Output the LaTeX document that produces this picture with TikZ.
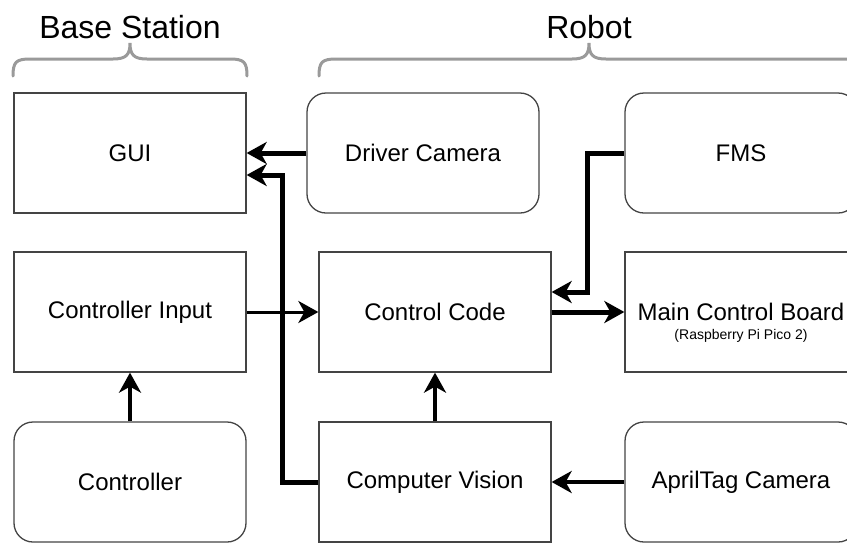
\documentclass[tikz,border=0pt]{standalone}
\usepackage{fontspec}
\setmainfont{Liberation Sans}
\usetikzlibrary{arrows.meta}
\definecolor{edgegray}{HTML}{444444}
\definecolor{bracegray}{HTML}{9A9A9A}
\tikzset{
  box/.style={draw=edgegray, line width=1.3pt, minimum width=232pt, minimum height=120pt,
    inner sep=0pt, align=center, font=\fontsize{24}{28}\selectfont},
  softbox/.style={box, rounded corners=19pt},
  flow/.style={line width=#1, -{Stealth[length=20pt, width=22pt, inset=6pt]}},
  flow/.default=5pt,
  brace/.style={draw=bracegray, line width=3pt, line cap=round, rounded corners=0pt},
  heading/.style={font=\fontsize{32}{36}\selectfont, inner sep=0pt}
}
\begin{document}
\begin{tikzpicture}[x=1pt, y=-1pt]
  \useasboundingbox (0,0) rectangle (847,542);
  \clip (0,0) rectangle (847,542);

  % group headings and braces
  \node[heading] (hbase) at (130,27) {Base Station};
  \node[heading] (hrobot) at (589,27) {Robot};
  \draw[brace] (13,76) .. controls (13,62) and (16,59) .. (30,59) -- (113,59)
    .. controls (126,59) and (130,55) .. (130,43)
    .. controls (130,55) and (134,59) .. (147,59) -- (230,59)
    .. controls (244,59) and (247,62) .. (247,76);
  \draw[brace] (319,76) .. controls (319,62) and (322,59) .. (336,59) -- (572,59)
    .. controls (585,59) and (589,55) .. (589,43)
    .. controls (589,55) and (593,59) .. (606,59) -- (842,59)
    .. controls (856,59) and (859,62) .. (859,76);

  % top row
  \node[box]     (gui) at (130,153) {GUI};
  \node[softbox] (drv) at (423,153) {Driver Camera};
  \node[softbox] (fms) at (741,153) {FMS};

  % middle row
  \node[box] (cin) at (130,312) {Controller Input};
  \node[box] (cc)  at (435,312) {Control Code};
  \node[box] (mcb) at (741,312) {};
  \node[font=\fontsize{24}{28}\selectfont, inner sep=0pt] (mcbtitle) at (741,312) {Main Control Board};
  \node[font=\fontsize{14}{16}\selectfont, inner sep=0pt] (mcbsub) at (741,336) {(Raspberry Pi Pico 2)};

  % bottom row
  \node[softbox] (ctl) at (130,482) {Controller};
  \node[box]     (cv)  at (435,482) {Computer Vision};
  \node[softbox] (atc) at (741,482) {AprilTag Camera};

  % data flow
  \draw[flow] (drv.west) -- (gui.east);
  \draw[flow] (cv.west) -- ++(-36,0) |- ([yshift=-22pt]gui.east);
  \draw[flow] (fms.west) -- ++(-37,0) |- ([yshift=20pt]cc.east);
  \draw[flow] (cc.east) -- (mcb.west);
  \draw[flow=3pt] (cin.east) -- (cc.west);
  \draw[flow=4pt] (ctl.north) -- (cin.south);
  \draw[flow=4pt] (cv.north) -- (cc.south);
  \draw[flow=4pt] (atc.west) -- (cv.east);
\end{tikzpicture}
\end{document}
